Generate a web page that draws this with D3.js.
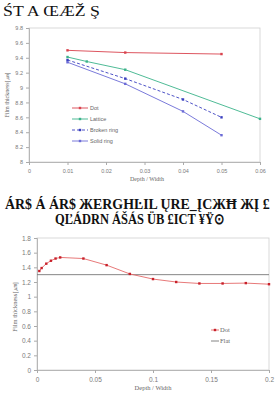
<!DOCTYPE html>
<html>
<head>
<meta charset="utf-8">
<script src="https://cdn.jsdelivr.net/npm/d3@7"></script>
<style>
  body { margin: 0; background: #fff; }
  svg { display: block; }
  .tick text { fill: #7a7a7a; font-family: "Liberation Sans", Arial, sans-serif; }
  .cap { font-family: "Liberation Serif", serif; fill: #111; }
</style>
</head>
<body>
<svg width="276" height="398"></svg>
<script>
// chart 1 data
var xTicks1 = [0, 0.01, 0.02, 0.03, 0.04, 0.05, 0.06];
var yTicks1 = [8, 8.2, 8.4, 8.6, 8.8, 9, 9.2, 9.4, 9.6, 9.8];
var dotX = [0.01, 0.025, 0.05];
var dotY = [9.50, 9.47, 9.45];
var latticeX = [0.01, 0.015, 0.025, 0.06];
var latticeY = [9.41, 9.35, 9.24, 8.58];
var brokenX = [0.01, 0.025, 0.04, 0.05];
var brokenY = [9.37, 9.12, 8.84, 8.60];
var solidX = [0.01, 0.025, 0.04, 0.05];
var solidY = [9.34, 9.05, 8.68, 8.36];

// chart 2 data
var xTicks2 = [0, 0.05, 0.1, 0.15, 0.2];
var yTicks2 = [0, 0.2, 0.4, 0.6, 0.8, 1, 1.2, 1.4, 1.6, 1.8];
var dot2X = [0.002, 0.004, 0.008, 0.012, 0.016, 0.02, 0.04, 0.06, 0.08, 0.1, 0.12, 0.14, 0.16, 0.18, 0.2];
var dot2Y = [1.35, 1.39, 1.45, 1.49, 1.52, 1.535, 1.52, 1.43, 1.31, 1.24, 1.20, 1.18, 1.18, 1.185, 1.17];
var flatX = [0, 0.2];
var flatY = [1.3, 1.3];

var svg = d3.select("svg");

// garbled heading / caption text as it shows in the picture,
// squeezed with a transform so its box really fits the given width
function caption(str, x, y, size, weight, width) {
  var t = svg.append("text").attr("class", "cap")
    .attr("font-size", size).attr("font-weight", weight)
    .text(str);
  var w = t.node().getComputedTextLength();
  t.attr("transform", "translate(" + x + "," + y + ") scale(" + (width / w) + ",1)");
}
caption("ŚT A  ŒÆŽ Ş", 3, 16, 15, "normal", 97);
caption("ÁR$ Á ÁR$  ЖERGHĿIL  ŲRE_ĮCЖĦ  ЖĮ £", 5, 209, 15, "bold", 265);
caption("QĽÁDRN ÁŠÁS ÜB £ICT ¥Ÿ⊙", 55, 224, 15, "bold", 170);

function drawAxes(g, x, y, xt, yt, fmtY) {
  var w = x.range()[1], h = y.range()[0];
  g.append("rect")
    .attr("x", 0).attr("y", 0).attr("width", w).attr("height", h)
    .attr("fill", "none").attr("stroke", "#cfcfcf").attr("stroke-width", 0.8);

  var xa = g.append("g")
    .attr("transform", "translate(0," + h + ")")
    .call(d3.axisBottom(x).tickValues(xt).tickSize(3).tickPadding(4).tickFormat(d3.format("")));
  var ya = g.append("g")
    .call(d3.axisLeft(y).tickValues(yt).tickSize(3).tickPadding(3).tickFormat(fmtY));
  [xa, ya].forEach(function (a) {
    a.selectAll(".domain").attr("stroke", "#aaa").attr("stroke-width", 0.8);
    a.selectAll(".tick line").attr("stroke", "#aaa");
    a.selectAll("text").attr("font-size", 5.5);
  });
}

function series(g, x, y, xs, ys, color, opts) {
  var pts = xs.map(function (v, i) { return [v, ys[i]]; });
  var line = d3.line().x(function (d) { return x(d[0]); }).y(function (d) { return y(d[1]); });
  g.append("path").datum(pts)
    .attr("fill", "none").attr("stroke", color)
    .attr("stroke-width", opts.width || 1)
    .attr("stroke-dasharray", opts.dash || null)
    .attr("d", line);
  if (opts.marker) {
    g.append("g").selectAll("rect").data(pts).enter().append("rect")
      .attr("x", function (d) { return x(d[0]) - 1.2; })
      .attr("y", function (d) { return y(d[1]) - 1.2; })
      .attr("width", 2.4).attr("height", 2.4)
      .attr("fill", opts.markerColor || color);
  }
}

// ---- chart 1
var m1 = { left: 29, top: 28 };
var g1 = svg.append("g").attr("transform", "translate(" + m1.left + "," + m1.top + ")");
var x1 = d3.scaleLinear().domain([0, 0.06]).range([0, 231]);
var y1 = d3.scaleLinear().domain([8, 9.8]).range([134, 0]);
drawAxes(g1, x1, y1, xTicks1, yTicks1, d3.format(""));

var s1 = [
  { name: "Dot", xs: dotX, ys: dotY, color: "#d9434e", dash: null },
  { name: "Lattice", xs: latticeX, ys: latticeY, color: "#3bb38a", dash: null },
  { name: "Broken ring", xs: brokenX, ys: brokenY, color: "#3a3fbf", dash: "3,2" },
  { name: "Solid ring", xs: solidX, ys: solidY, color: "#6b6bd6", dash: null }
];
s1.forEach(function (s) {
  series(g1, x1, y1, s.xs, s.ys, s.color, { marker: true, dash: s.dash, width: 0.9 });
});

var leg1 = g1.append("g").attr("transform", "translate(43,80)");
s1.forEach(function (s, i) {
  var r = leg1.append("g").attr("transform", "translate(0," + (i * 11) + ")");
  r.append("line").attr("x1", 0).attr("x2", 16).attr("y1", 0).attr("y2", 0)
    .attr("stroke", s.color).attr("stroke-width", 0.9).attr("stroke-dasharray", s.dash);
  r.append("rect").attr("x", 6.8).attr("y", -1.2).attr("width", 2.4).attr("height", 2.4).attr("fill", s.color);
  r.append("text").attr("x", 18).attr("y", 2).attr("font-size", 5.5)
    .attr("font-family", "Liberation Sans, Arial, sans-serif").attr("fill", "#666").text(s.name);
});

svg.append("text")
  .attr("transform", "translate(9,95) rotate(-90)")
  .attr("text-anchor", "middle").attr("font-size", 6)
  .attr("font-family", "Liberation Serif, serif").attr("fill", "#666")
  .text("Film thickness[㎛]");
svg.append("text")
  .attr("x", 147).attr("y", 181).attr("text-anchor", "middle").attr("font-size", 6)
  .attr("font-family", "Liberation Serif, serif").attr("fill", "#666")
  .text("Depth / Width");

// ---- chart 2
var m2 = { left: 37, top: 238 };
var g2 = svg.append("g").attr("transform", "translate(" + m2.left + "," + m2.top + ")");
var x2 = d3.scaleLinear().domain([0, 0.2]).range([0, 232]);
var y2 = d3.scaleLinear().domain([0, 1.8]).range([132, 0]);
drawAxes(g2, x2, y2, xTicks2, yTicks2, d3.format(""));
g2.selectAll(".tick text").attr("font-family", "Liberation Serif, serif").attr("font-size", 6.5);

series(g2, x2, y2, flatX, flatY, "#777", { marker: false, width: 0.9 });
series(g2, x2, y2, dot2X, dot2Y, "#e46a6a", { marker: true, markerColor: "#c8202a", width: 0.9 });

var leg2 = g2.append("g").attr("transform", "translate(174,92)");
leg2.append("line").attr("x1", 0).attr("x2", 8).attr("stroke", "#e46a6a").attr("stroke-width", 0.9);
leg2.append("rect").attr("x", 2.8).attr("y", -1.2).attr("width", 2.4).attr("height", 2.4).attr("fill", "#c8202a");
leg2.append("text").attr("x", 9).attr("y", 2).attr("font-size", 6.5)
  .attr("font-family", "Liberation Serif, serif").attr("fill", "#666").text("Dot");
leg2.append("line").attr("x1", 0).attr("x2", 8).attr("y1", 11).attr("y2", 11).attr("stroke", "#777").attr("stroke-width", 0.9);
leg2.append("text").attr("x", 9).attr("y", 13).attr("font-size", 6.5)
  .attr("font-family", "Liberation Serif, serif").attr("fill", "#666").text("Flat");

svg.append("text")
  .attr("transform", "translate(17,307) rotate(-90)")
  .attr("text-anchor", "middle").attr("font-size", 6.5)
  .attr("font-family", "Liberation Serif, serif").attr("fill", "#666")
  .text("Film thickness[㎛]");
svg.append("text")
  .attr("x", 153).attr("y", 390).attr("text-anchor", "middle").attr("font-size", 6.5)
  .attr("font-family", "Liberation Serif, serif").attr("fill", "#666")
  .text("Depth / Width");
</script>
</body>
</html>
